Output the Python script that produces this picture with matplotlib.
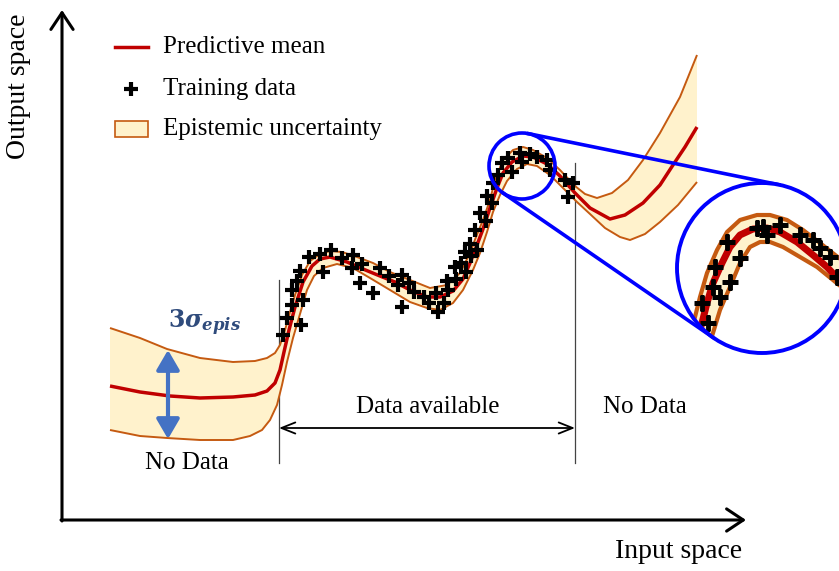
import matplotlib
matplotlib.use("Agg")
import matplotlib.pyplot as plt
from matplotlib.patches import Circle, Rectangle
import numpy as np

plt.rcParams['font.family'] = ['Liberation Serif', 'DejaVu Serif']
plt.rcParams['mathtext.fontset'] = 'custom'
plt.rcParams['mathtext.rm'] = 'DejaVu Serif:bold'
plt.rcParams['mathtext.it'] = 'DejaVu Serif:italic:bold'
plt.rcParams['mathtext.bf'] = 'DejaVu Serif:bold'

# ---- main curve (canvas units) ----
mean_x = [110, 140, 170, 200, 233, 255, 267, 275, 280, 284, 289, 295, 303, 312, 320, 330,
          347, 363, 380, 395, 410, 427, 440, 453, 463, 470, 477, 483, 490, 497, 503, 512,
          523, 533, 547, 560, 575, 590, 610, 625, 643, 660, 673, 685, 697]
mean_y = [386, 392, 396, 398, 397, 395, 391, 383, 370, 352, 330, 307, 282, 266, 259, 257,
          262, 269, 276, 282, 290, 297, 297, 291, 279, 263, 245, 229, 208, 188, 173, 162,
          156, 157, 164, 176, 193, 208, 219, 215, 203, 185, 165, 147, 127]

upper_x = [110, 140, 167, 200, 233, 255, 267, 275, 280, 285, 290, 295, 302, 310, 320, 330,
           342, 357, 373, 390, 410, 430, 447, 460, 470, 476, 483, 490, 495, 503, 513, 523,
           533, 547, 560, 575, 585, 597, 612, 628, 643, 660, 680, 697]
upper_y = [328, 338, 349, 358, 362, 361, 358, 353, 345, 330, 312, 295, 275, 261, 254, 251,
           252, 257, 263, 272, 280, 288, 285, 273, 253, 237, 220, 200, 180, 160, 150, 147,
           150, 158, 170, 186, 194, 198, 193, 180, 160, 133, 97, 55]

lower_x = [110, 140, 167, 200, 233, 250, 262, 270, 277, 282, 287, 293, 300, 307, 314, 323,
           337, 353, 370, 390, 410, 427, 440, 453, 463, 473, 480, 487, 493, 500, 507, 517,
           527, 537, 550, 563, 577, 590, 605, 620, 630, 645, 660, 678, 697]
lower_y = [430, 436, 438, 440, 440, 436, 430, 420, 405, 385, 362, 338, 314, 290, 276, 268,
           264, 268, 278, 290, 302, 308, 310, 303, 290, 270, 253, 232, 212, 195, 181, 169,
           164, 166, 175, 188, 202, 214, 228, 237, 240, 234, 222, 205, 182]

# training observations
train_x = [283, 287, 301, 292, 303, 292, 297, 300, 309, 320, 331, 323, 342, 353, 352, 362,
           360, 373, 380, 389, 402, 398, 409, 402, 414, 424, 429, 436, 438, 444, 448, 456,
           461, 466, 471, 470, 455, 477, 475, 480, 486, 487, 492, 493, 498, 502, 512, 508,
           520, 522, 530, 537, 547, 550, 565, 568, 573, 447, 465]
train_y = [335, 318, 325, 305, 300, 290, 281, 271, 257, 254, 250, 272, 258, 255, 268, 264,
           283, 293, 268, 276, 275, 285, 283, 307, 292, 297, 303, 293, 312, 303, 290, 279,
           263, 272, 256, 244, 267, 250, 230, 213, 221, 196, 203, 183, 175, 163, 172, 158,
           153, 162, 154, 157, 160, 170, 180, 197, 183, 281, 252]

# ---- enlarged view around the peak ----
zoom_mean_x = [695, 702, 707, 713, 722, 730, 740, 753, 767, 780, 797, 813, 827, 839, 845]
zoom_mean_y = [345, 323, 303, 283, 263, 247, 235, 229, 228, 232, 242, 255, 267, 280, 286]
zoom_upper_x = [688, 695, 700, 707, 717, 727, 740, 757, 770, 787, 803, 820, 839, 845]
zoom_upper_y = [340, 317, 297, 273, 250, 232, 220, 215, 215, 220, 230, 243, 258, 263]
zoom_lower_x = [706, 713, 720, 730, 740, 750, 760, 770, 783, 800, 817, 833, 839, 845]
zoom_lower_y = [355, 333, 310, 287, 263, 247, 242, 242, 247, 257, 267, 280, 285, 291]
zoom_train_x = [708, 702, 720, 713, 730, 715, 740, 727, 757, 767, 780, 800, 813, 820, 830, 837, 763]
zoom_train_y = [323, 303, 297, 287, 282, 267, 258, 242, 228, 235, 225, 235, 240, 248, 257, 277, 227]

RED = '#C00000'
EDGE = '#C55A11'
FILL = '#FFF2CC'
BLUE = '#0000FF'

fig = plt.figure(figsize=(8.39, 5.71), dpi=100)
ax = fig.add_axes([0, 0, 1, 1])
ax.set_xlim(0, 839)
ax.set_ylim(571, 0)
ax.axis('off')


def band(ax, ux, uy, lx, ly, mx, my, lw_edge, lw_mean, clip=None):
    poly_x = list(ux) + list(lx)[::-1]
    poly_y = list(uy) + list(ly)[::-1]
    arts = ax.fill(poly_x, poly_y, color=FILL, lw=0, zorder=2)
    arts += ax.plot(ux, uy, color=EDGE, lw=lw_edge, zorder=3, solid_capstyle='butt')
    arts += ax.plot(lx, ly, color=EDGE, lw=lw_edge, zorder=3, solid_capstyle='butt')
    arts += ax.plot(mx, my, color=RED, lw=lw_mean, zorder=4, solid_capstyle='butt')
    if clip is not None:
        for a in arts:
            a.set_clip_path(clip)
    return arts


band(ax, upper_x, upper_y, lower_x, lower_y, mean_x, mean_y, 1.4, 2.5)
ax.plot(train_x, train_y, '+', color='black', ms=10, mew=3, zorder=5)

# axes arrows
ax.annotate('', xy=(62, 10), xytext=(62, 521),
            arrowprops=dict(arrowstyle='->,head_length=0.6,head_width=0.4', lw=2.2,
                            color='black', mutation_scale=20, shrinkA=0, shrinkB=0))
ax.annotate('', xy=(746, 520), xytext=(61, 520),
            arrowprops=dict(arrowstyle='->,head_length=0.6,head_width=0.4', lw=2.2,
                            color='black', mutation_scale=20, shrinkA=0, shrinkB=0))
ax.text(19, 86, 'Output space', rotation=90, ha='center', va='center', fontsize=20)
ax.text(679, 552, 'Input space', ha='center', va='center', fontsize=20)

# boundaries of observed region
ax.plot([279, 279], [280, 463], color='#444444', lw=0.9, zorder=1)
ax.plot([575, 575], [163, 463], color='#444444', lw=0.9, zorder=1)
ax.annotate('', xy=(279, 428), xytext=(575, 428),
            arrowprops=dict(arrowstyle='<->,head_length=0.5,head_width=0.2', lw=1.3,
                            color='black', mutation_scale=20, shrinkA=0, shrinkB=0))
ax.text(428, 407, 'Data available', ha='center', va='center', fontsize=18)
ax.text(187, 463, 'No Data', ha='center', va='center', fontsize=18)
ax.text(645, 407, 'No Data', ha='center', va='center', fontsize=18)

# uncertainty width marker
ax.annotate('', xy=(168, 350), xytext=(168, 439),
            arrowprops=dict(arrowstyle='<|-|>,head_length=0.6,head_width=0.35', lw=3,
                            color='#4472C4', mutation_scale=20, shrinkA=0, shrinkB=0),
            zorder=6)
ax.text(205, 323, r'$\mathrm{3}\sigma_{epis}$', ha='center', va='center',
        fontsize=17, color='#2F4B7C')

# legend
ax.plot([115, 148], [47, 47], color=RED, lw=2.5)
ax.text(163, 47, 'Predictive mean', ha='left', va='center', fontsize=18)
ax.plot([131], [89], '+', color='black', ms=10, mew=3)
ax.text(163, 89, 'Training data', ha='left', va='center', fontsize=18)
ax.add_patch(Rectangle((115, 121), 33, 16, facecolor=FILL, edgecolor=EDGE, lw=1.2))
ax.text(163, 129, 'Epistemic uncertainty', ha='left', va='center', fontsize=18)

# magnifier
small_c = np.array([522.0, 166.0]); r1 = 33.0
big_c = np.array([762.0, 268.0]); r2 = 85.0
d = big_c - small_c
dist = np.hypot(*d)
u = d / dist
ang = np.arccos((r1 - r2) / dist)
for s in (1, -1):
    rot = np.array([[np.cos(s * ang), -np.sin(s * ang)], [np.sin(s * ang), np.cos(s * ang)]])
    n = rot @ u
    p1 = small_c + r1 * n
    p2 = big_c + r2 * n
    ax.plot([p1[0], p2[0]], [p1[1], p2[1]], color=BLUE, lw=2.6, zorder=7)

ax.add_patch(Circle(small_c, r1, facecolor='none', edgecolor=BLUE, lw=2.6, zorder=8))
ax.add_patch(Circle(big_c, r2, facecolor='white', edgecolor='none', zorder=8))
clip = Circle(big_c, r2, transform=ax.transData)
arts = band(ax, zoom_upper_x, zoom_upper_y, zoom_lower_x, zoom_lower_y,
            zoom_mean_x, zoom_mean_y, 3.0, 5.0, clip=clip)
for a in arts:
    a.set_zorder(a.get_zorder() + 8)
pts, = ax.plot(zoom_train_x, zoom_train_y, '+', color='black', ms=11, mew=3.5, zorder=13)
pts.set_clip_path(clip)
ax.add_patch(Circle(big_c, r2, facecolor='none', edgecolor=BLUE, lw=2.8, zorder=14))

fig.savefig('out.png', dpi=100)
